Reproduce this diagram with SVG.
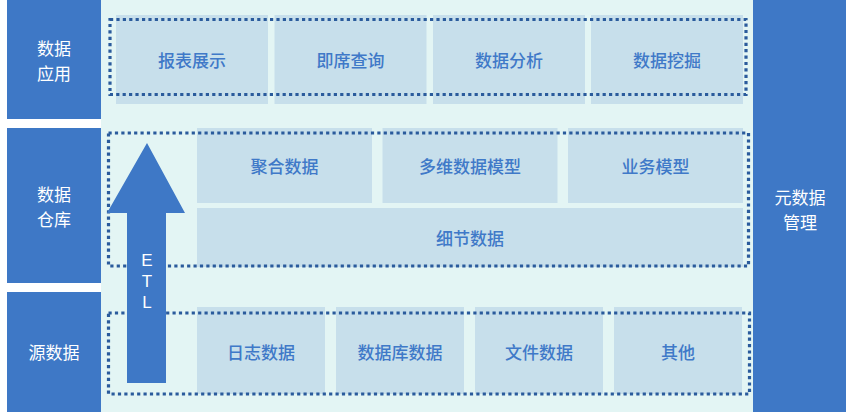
<svg xmlns="http://www.w3.org/2000/svg" width="846" height="412" viewBox="0 0 846 412">
<style>
.side{fill:#3E78C6}
.cell{fill:#C7DFEB}
.dot{fill:none;stroke:#2A5B9C;stroke-width:3.2;stroke-dasharray:3.2 3.2}
.lt{font-family:"Noto Sans CJK SC","Noto Sans",sans-serif;font-size:17px;fill:#fff;text-anchor:middle;dominant-baseline:central}
.ct{font-family:"Noto Sans CJK SC","Noto Sans",sans-serif;font-size:17px;font-weight:500;fill:#3F79C8;text-anchor:middle;dominant-baseline:central}
.et{font-family:"Liberation Sans",sans-serif;font-size:17px;fill:#fff;text-anchor:middle;dominant-baseline:central}
</style>
<rect x="0" y="0" width="846" height="412" fill="#ffffff"/>
<rect x="101" y="0" width="652" height="412" fill="#E3F5F4"/>
<g id="side-app"><rect class="side" x="7" y="0" width="94" height="119"/><text class="lt" x="54" y="47">数据</text><text class="lt" x="54" y="72">应用</text></g>
<g id="side-dw"><rect class="side" x="7" y="128" width="94" height="155"/><text class="lt" x="54" y="193">数据</text><text class="lt" x="54" y="218">仓库</text></g>
<g id="side-src"><rect class="side" x="7" y="292" width="94" height="120"/><text class="lt" x="54" y="351">源数据</text></g>
<g id="side-meta"><rect class="side" x="753" y="0" width="93" height="412"/><text class="lt" x="800" y="196">元数据</text><text class="lt" x="800" y="221">管理</text></g>

<g id="app-report"><rect class="cell" x="116" y="15" width="152" height="89"/><text class="ct" x="192" y="59">报表展示</text></g>
<g id="app-query"><rect class="cell" x="274.5" y="15" width="152" height="89"/><text class="ct" x="350.5" y="59">即席查询</text></g>
<g id="app-analysis"><rect class="cell" x="433" y="15" width="152" height="89"/><text class="ct" x="509" y="59">数据分析</text></g>
<g id="app-mining"><rect class="cell" x="591" y="15" width="152" height="89"/><text class="ct" x="667" y="59">数据挖掘</text></g>

<g id="dw-agg"><rect class="cell" x="197" y="128" width="175" height="75"/><text class="ct" x="284.5" y="165">聚合数据</text></g>
<g id="dw-multi"><rect class="cell" x="382.5" y="128" width="175" height="75"/><text class="ct" x="470" y="165">多维数据模型</text></g>
<g id="dw-biz"><rect class="cell" x="568" y="128" width="175" height="75"/><text class="ct" x="655.5" y="165">业务模型</text></g>
<g id="dw-detail"><rect class="cell" x="197" y="208" width="546" height="59"/><text class="ct" x="470" y="237">细节数据</text></g>

<g id="src-log"><rect class="cell" x="197" y="307" width="128" height="87"/><text class="ct" x="261" y="351">日志数据</text></g>
<g id="src-db"><rect class="cell" x="336" y="307" width="128" height="87"/><text class="ct" x="400" y="351">数据库数据</text></g>
<g id="src-file"><rect class="cell" x="475" y="307" width="128" height="87"/><text class="ct" x="539" y="351">文件数据</text></g>
<g id="src-other"><rect class="cell" x="614" y="307" width="128" height="87"/><text class="ct" x="678" y="351">其他</text></g>

<g id="frames">
<rect class="dot" x="110" y="19.5" width="636" height="75"/>
<rect class="dot" x="108.5" y="133" width="640" height="133"/>
<rect class="dot" x="108.5" y="313" width="641" height="81"/>
</g>

<g id="connectors">
<polygon points="147,143 185,213 166,213 166,383 127,383 127,213 107,213" fill="#3E78C6"/>
<text class="et" x="147" y="260">E</text>
<text class="et" x="147" y="281">T</text>
<text class="et" x="147" y="302">L</text>
</g>
</svg>
